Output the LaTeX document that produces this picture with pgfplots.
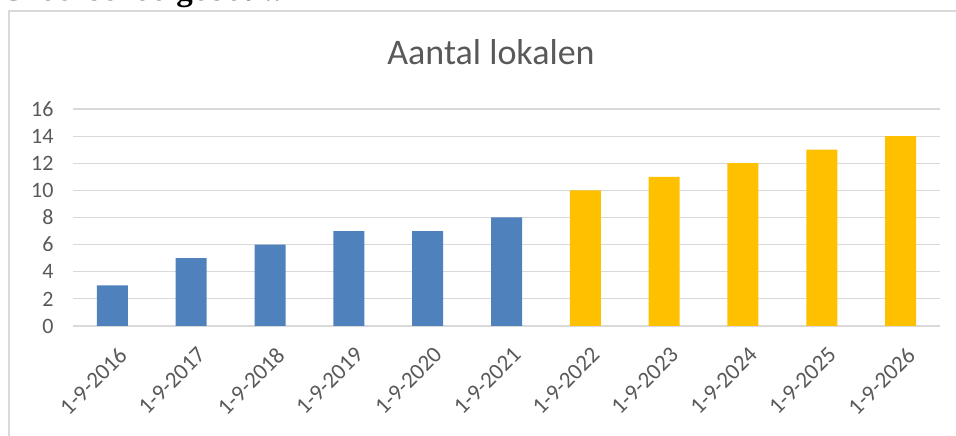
\documentclass[border=0pt]{standalone}
\usepackage{pgfplots}
\pgfplotsset{compat=1.18}
\usepackage{fontspec}
\setmainfont{Carlito}
\newfontfamily\headfont{Liberation Serif}
\definecolor{txtgray}{HTML}{595959}
\definecolor{gridgray}{HTML}{D9D9D9}
\definecolor{barblue}{HTML}{4F81BD}
\definecolor{baryellow}{HTML}{FFC000}
\begin{document}
\begin{tikzpicture}
\useasboundingbox (0pt,0pt) rectangle (956pt,436pt);
\clip (0pt,0pt) rectangle (956pt,436pt);
\draw[color=gridgray, line width=1.2pt] (9pt,-10pt) -- (9pt,425pt) -- (970pt,425pt);
\node[anchor=base west, inner sep=0pt, font=\headfont\bfseries\fontsize{33}{36}\selectfont] at (0pt,435pt) {Groei schoolgebouw};
\node[anchor=base, inner sep=0pt, text=txtgray, font=\fontsize{36}{40}\selectfont] at (491pt,371pt) {Aantal lokalen};
\begin{axis}[
  at={(73pt,110pt)}, anchor=south west,
  scale only axis, width=867pt, height=217pt,
  xmin=-0.5, xmax=10.5, ymin=0, ymax=16,
  ytick={0,2,...,16},
  xtick={0,...,10},
  xticklabels={1-9-2016,1-9-2017,1-9-2018,1-9-2019,1-9-2020,1-9-2021,1-9-2022,1-9-2023,1-9-2024,1-9-2025,1-9-2026},
  ymajorgrids, grid style={line width=1.2pt, color=gridgray},
  axis line style={draw=none},
  major tick length=0pt,
  /pgf/number format/assume math mode=true,
  tick label style={text=txtgray, font=\fontsize{22}{26}\selectfont},
  yticklabel style={xshift=-16pt},
  xticklabel style={rotate=45, anchor=north east, font=\fontsize{23}{26}\selectfont, xshift=-7pt, yshift=-14pt},
  ybar, bar width=31pt, bar shift=0pt,
  clip=false,
]
\addplot[fill=barblue, draw=none] coordinates {(0,3) (1,5) (2,6) (3,7) (4,7) (5,8)};
\addplot[fill=baryellow, draw=none] coordinates {(6,10) (7,11) (8,12) (9,13) (10,14)};
\end{axis}
\end{tikzpicture}
\end{document}
